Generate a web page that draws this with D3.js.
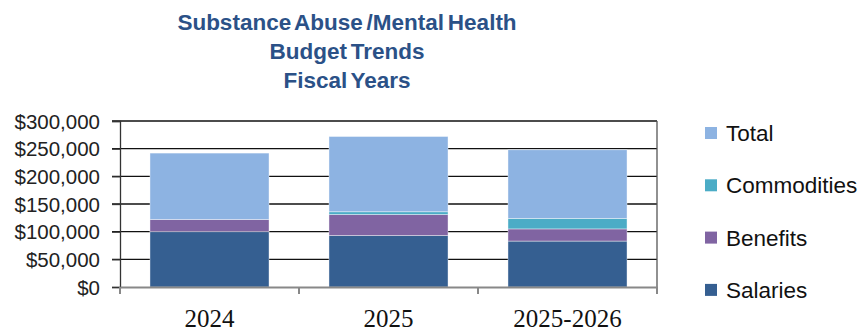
<!DOCTYPE html>
<html><head><meta charset="utf-8">
<script src="https://cdn.jsdelivr.net/npm/d3@7"></script>
<style>body{margin:0;background:#fff}svg{display:block}</style>
</head><body>
<svg id="c" width="859" height="333"></svg>
<script>
const categories = ["2024", "2025", "2025-2026"];
const salaries = [100000, 93000, 83000];
const benefits = [22000, 38000, 22000];
const commodities = [0, 5000, 19000];
const totals = [120000, 136000, 124000];
const seriesNames = ["Salaries", "Benefits", "Commodities", "Total"];
const seriesColors = ["#355F91", "#8064A2", "#4BACC6", "#8DB3E2"];
const yTicks = [0, 50000, 100000, 150000, 200000, 250000, 300000];
const titleLines = ["Substance Abuse /Mental Health", "Budget Trends", "Fiscal Years"];

const svg = d3.select("#c");
const m = {l:120, r:657, t:121, b:287};

const rows = categories.map((c,i)=>({cat:c, Salaries:salaries[i], Benefits:benefits[i], Commodities:commodities[i], Total:totals[i]}));
const stack = d3.stack().keys(seriesNames)(rows);

const x = d3.scaleBand().domain(categories).range([m.l, m.r]).paddingInner(0.335).paddingOuter(0.1675);
const y = d3.scaleLinear().domain([0, 300000]).range([m.b, m.t]);

// gridlines
svg.append("g").selectAll("line").data(yTicks.filter(d=>d>0)).join("line")
  .attr("x1", m.l-8).attr("x2", m.r).attr("y1", d=>y(d)).attr("y2", d=>y(d))
  .attr("stroke", "#111").attr("stroke-width", 1.3);

// right border
svg.append("line").attr("x1", m.r).attr("x2", m.r).attr("y1", m.t).attr("y2", m.b)
  .attr("stroke", "#555").attr("stroke-width", 1.3);

// bars
svg.append("g").selectAll("g").data(stack).join("g")
  .attr("fill", (d,i)=>seriesColors[i])
  .selectAll("rect").data(d=>d).join("rect")
  .attr("x", d=>x(d.data.cat)).attr("width", x.bandwidth())
  .attr("y", d=>y(d[1])).attr("height", d=>Math.max(0, y(d[0])-y(d[1])))
  .attr("stroke", "rgba(255,255,255,0.5)").attr("stroke-width", 0.8);

// y axis
const ya = svg.append("g").attr("transform", `translate(${m.l},0)`)
  .call(d3.axisLeft(y).tickValues(yTicks).tickSize(8).tickFormat(d=>"$"+d3.format(",")(d)));
ya.select(".domain").attr("stroke", "#333").attr("stroke-width", 1.3);
ya.selectAll(".tick line").attr("stroke", "#333").attr("stroke-width", 1.3);
ya.selectAll("text").attr("font-family", "Liberation Sans, Arial, sans-serif").attr("font-size", 20.5)
  .attr("fill", "#222").attr("x", -20).attr("dy", "0.35em");

// x axis
const xa = svg.append("g").attr("transform", `translate(0,${m.b})`)
  .call(d3.axisBottom(x).tickSize(0).tickSizeOuter(0));
xa.select(".domain").attr("stroke", "#888").attr("stroke-width", 2);
xa.selectAll("text").attr("font-family", "Liberation Serif, Times New Roman, serif").attr("font-size", 25)
  .attr("fill", "#111").attr("y", 0).attr("dy", 0).attr("transform", "translate(0,40)");
// category boundary ticks
const bounds = [m.l, ...categories.map(c=>x(c)+x.bandwidth()+x.step()*x.paddingInner()/2)];
svg.append("g").selectAll("line").data(bounds).join("line")
  .attr("x1", d=>d).attr("x2", d=>d).attr("y1", m.b).attr("y2", m.b+7)
  .attr("stroke", "#888").attr("stroke-width", 2);

// title
svg.append("g").selectAll("text").data(titleLines).join("text")
  .attr("x", 347).attr("y", (d,i)=>30+i*29).attr("text-anchor", "middle")
  .attr("font-family", "Liberation Sans, Arial, sans-serif").attr("font-weight", "bold")
  .attr("font-size", 22.5).attr("word-spacing", -2.5).attr("fill", "#2B5187").text(d=>d);

// legend
const legendOrder = ["Total", "Commodities", "Benefits", "Salaries"];
const lg = svg.append("g").selectAll("g").data(legendOrder).join("g")
  .attr("transform", (d,i)=>`translate(705,${133+i*52.3})`);
lg.append("rect").attr("x", 0).attr("y", -6).attr("width", 12).attr("height", 12)
  .attr("fill", d=>seriesColors[seriesNames.indexOf(d)]);
lg.append("text").attr("x", 21).attr("y", 0).attr("dy", "0.36em")
  .attr("font-family", "Liberation Sans, Arial, sans-serif").attr("font-size", 22.5)
  .attr("fill", "#111").text(d=>d);
</script>
</body></html>
